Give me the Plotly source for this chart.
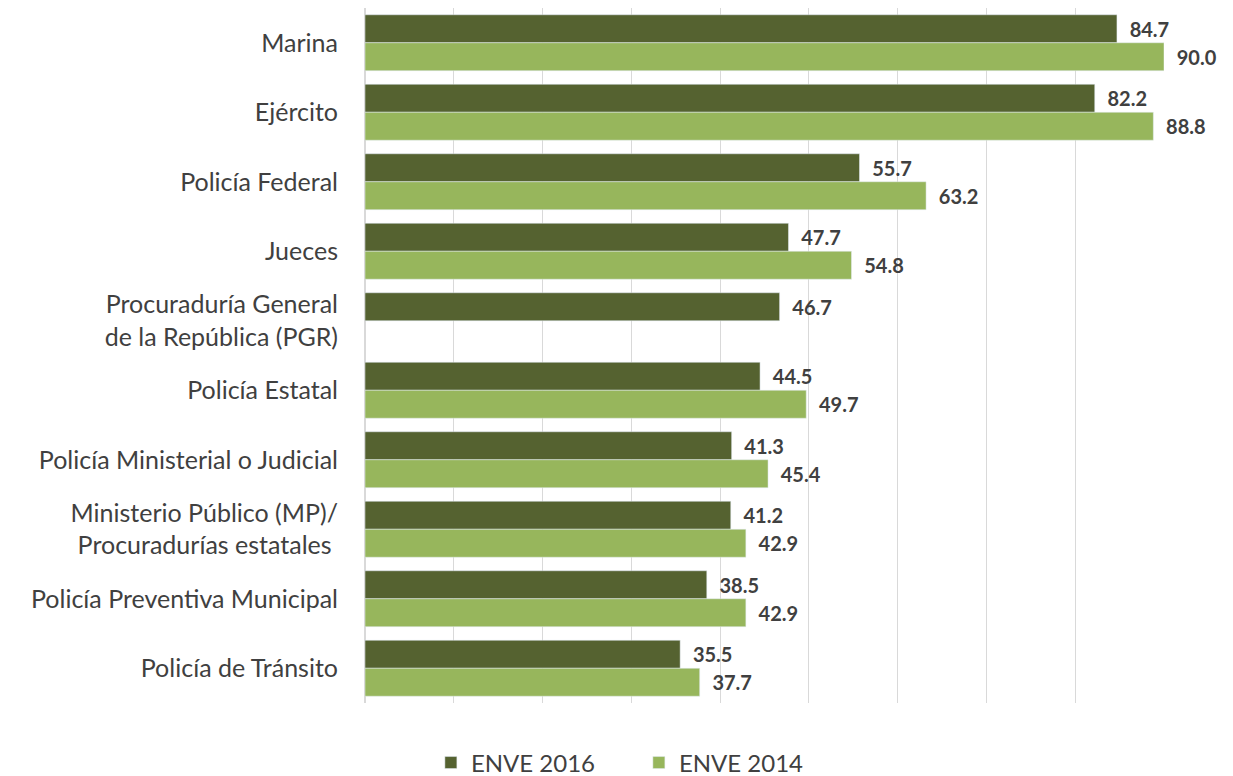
import plotly.graph_objects as go

categories = [
    "Marina",
    "Ejército",
    "Policía Federal",
    "Jueces",
    "Procuraduría General<br>de la República (PGR)",
    "Policía Estatal",
    "Policía Ministerial o Judicial",
    "Ministerio Público (MP)/<br>Procuradurías estatales ",
    "Policía Preventiva Municipal",
    "Policía de Tránsito",
]
enve_2016 = [84.7, 82.2, 55.7, 47.7, 46.7, 44.5, 41.3, 41.2, 38.5, 35.5]
enve_2014 = [90.0, 88.8, 63.2, 54.8, None, 49.7, 45.4, 42.9, 42.9, 37.7]

FONT = "Lato, 'Open Sans', sans-serif"

def labels(vals):
    return ["" if v is None else "\u00a0\u00a0" + f"{v:.1f}" for v in vals]

fig = go.Figure()
fig.add_trace(go.Bar(
    y=categories, x=enve_2016, orientation="h", name="ENVE 2016",
    marker=dict(color="#556230"),
    text=labels(enve_2016), textposition="outside",
    textfont=dict(family=FONT, size=20, color="#404040", weight="bold"),
    cliponaxis=False,
))
fig.add_trace(go.Bar(
    y=categories, x=enve_2014, orientation="h", name="ENVE 2014",
    marker=dict(color="#97b65c"),
    text=labels(enve_2014), textposition="outside",
    textfont=dict(family=FONT, size=20, color="#404040", weight="bold"),
    cliponaxis=False,
))

fig.update_layout(
    width=1225, height=768,
    paper_bgcolor="white", plot_bgcolor="white",
    barmode="group", bargap=0.195, bargroupgap=0,
    margin=dict(l=357, r=69, t=0, b=73),
    font=dict(family=FONT, color="#404040"),
    showlegend=True,
    legend=dict(
        orientation="h", xref="container", yref="container",
        x=0.515, xanchor="center", y=0.017, yanchor="middle",
        font=dict(family=FONT, size=24, color="#404040"),
        traceorder="normal",
        entrywidth=163, entrywidthmode="pixels",
    ),
)
fig.update_xaxes(
    range=[0, 90], dtick=10, showticklabels=False,
    showgrid=True, gridcolor="#d9d9d9", gridwidth=1,
    zeroline=True, zerolinecolor="#d9d9d9",
    ticks="", showline=False,
)
fig.update_yaxes(
    autorange="reversed", showgrid=False, ticks="",
    tickfont=dict(family=FONT, size=25, color="#404040"),
    ticklabelstandoff=26, showline=False,
)

fig.write_html("out.html")
